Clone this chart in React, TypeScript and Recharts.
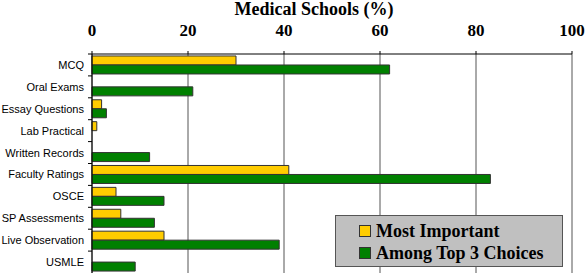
import { BarChart, Bar, XAxis, YAxis, CartesianGrid } from "recharts";

const categories = [
  "MCQ",
  "Oral Exams",
  "Essay Questions",
  "Lab Practical",
  "Written Records",
  "Faculty Ratings",
  "OSCE",
  "SP Assessments",
  "Live Observation",
  "USMLE",
];
const mostImportant = [30, 0, 2, 1, 0, 41, 5, 6, 15, 0];
const amongTop3 = [62, 21, 3, 0, 12, 83, 15, 13, 39, 9];
const xTicks = [0, 20, 40, 60, 80, 100];

const data = categories.map((name, i) => ({
  name,
  most: mostImportant[i],
  top3: amongTop3[i],
}));

const W = 586;
const H = 278;
const TOP = 54;
const BOTTOM = 5;
const HALF_BAND = (H - TOP - BOTTOM) / categories.length / 2;

const serif = "'Liberation Serif', 'Times New Roman', serif";
const sans = "'Liberation Sans', Arial, sans-serif";

const YELLOW = "#FFCC00";
const GREEN = "#008000";

const series = [
  { key: "most", label: "Most Important", color: YELLOW },
  { key: "top3", label: "Among Top 3 Choices", color: GREEN },
];

// category label plus a small tick at the upper edge of its band
function CategoryTick(props: any) {
  const { x, y, payload } = props;
  const ax = x + 8;
  return (
    <g>
      <line x1={ax - 4} x2={ax} y1={y - HALF_BAND} y2={y - HALF_BAND} stroke="#000" />
      <text
        x={ax - 8}
        y={y}
        dy={4}
        textAnchor="end"
        fontFamily={sans}
        fontSize={11}
        fill="#000"
      >
        {payload.value}
      </text>
    </g>
  );
}

function LegendBox() {
  return (
    <div
      style={{
        position: "absolute",
        left: 335,
        top: 215,
        width: 228,
        height: 52,
        boxSizing: "border-box",
        background: "#C0C0C0",
        border: "1px solid #555",
        paddingLeft: 23,
        paddingTop: 4,
      }}
    >
      {series.map((it) => (
        <div
          key={it.key}
          style={{ display: "flex", alignItems: "center", height: 22 }}
        >
          <span
            style={{
              width: 12,
              height: 12,
              background: it.color,
              border: "1px solid #333",
              boxSizing: "border-box",
              marginRight: 5,
            }}
          />
          <span
            style={{
              fontFamily: serif,
              fontWeight: "bold",
              fontSize: 18,
              color: "#000",
            }}
          >
            {it.label}
          </span>
        </div>
      ))}
    </div>
  );
}

export default function App() {
  return (
    <div style={{ position: "absolute", left: 0, top: 0, width: W, height: H, background: "#fff" }}>
      <BarChart
        width={W}
        height={H}
        data={data}
        layout="vertical"
        margin={{ top: 0, right: 14, left: 0, bottom: BOTTOM }}
        barCategoryGap="9%"
        barGap={0}
      >
        <CartesianGrid horizontal={false} stroke="#555" />
        <XAxis
          type="number"
          orientation="top"
          domain={[0, 100]}
          ticks={xTicks}
          height={TOP}
          axisLine={{ stroke: "#000" }}
          tickLine={{ stroke: "#000" }}
          tickSize={3}
          tickMargin={15}
          tick={{
            fontFamily: serif,
            fontWeight: "bold",
            fontSize: 17,
            fill: "#000",
          }}
          label={{
            value: "Medical Schools (%)",
            position: "insideTop",
            offset: 2,
            dx: -18,
            fontFamily: serif,
            fontWeight: "bold",
            fontSize: 18,
            fill: "#000",
          }}
        />
        <XAxis
          xAxisId="frame"
          type="number"
          orientation="bottom"
          domain={[0, 100]}
          height={0}
          tick={false}
          tickLine={false}
          axisLine={{ stroke: "#555" }}
        />
        <YAxis
          type="category"
          dataKey="name"
          width={92}
          interval={0}
          axisLine={{ stroke: "#000" }}
          tickLine={false}
          tick={<CategoryTick />}
        />
        {series.map((s) => (
          <Bar
            key={s.key}
            dataKey={s.key}
            name={s.label}
            fill={s.color}
            stroke="#333"
            strokeWidth={1}
            isAnimationActive={false}
          />
        ))}
      </BarChart>
      <LegendBox />
    </div>
  );
}
